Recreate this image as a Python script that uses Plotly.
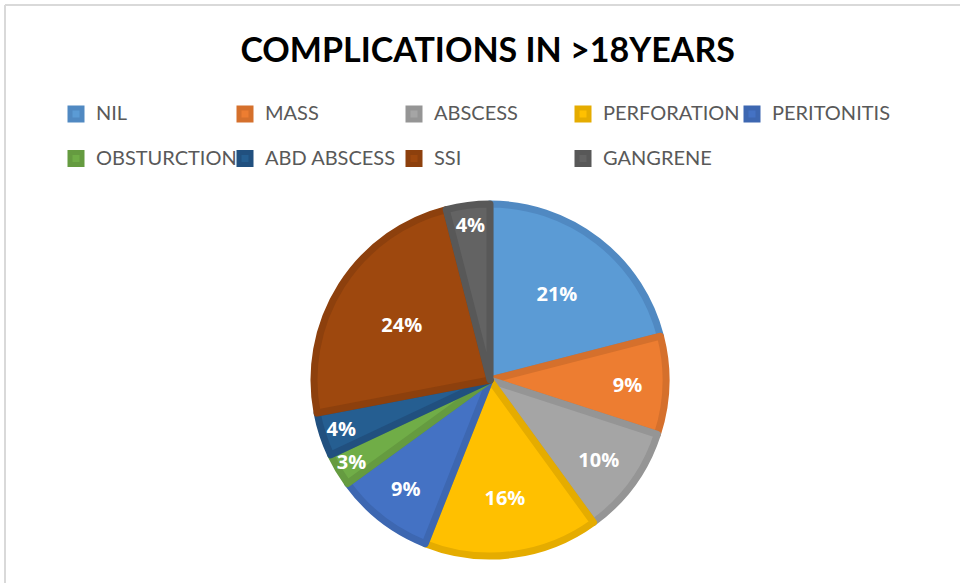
import plotly.graph_objects as go

# 各併發症占比（%）
labels = ["NIL", "MASS", "ABSCESS", "PERFORATION", "PERITONITIS",
          "OBSTURCTION", "ABD ABSCESS", "SSI", "GANGRENE"]
values = [21, 9, 10, 16, 9, 3, 4, 24, 4]

fill_colors = ["#5B9BD5", "#ED7D31", "#A5A5A5", "#FFC000", "#4472C4",
               "#70AD47", "#255E91", "#9E480E", "#636363"]
edge_colors = ["#5089C2", "#D5702C", "#959595", "#E5AC00", "#3D67B1",
               "#659B40", "#21507F", "#8D400D", "#585858"]

# 圖例每列間距拉開：標籤後面接一個空白行（行高跟著圖例字級 16 走）
legend_labels = ["<span style='font-size:20px'>" + lab + "</span><br> " for lab in labels]

fig = go.Figure()
fig.add_trace(go.Pie(
    labels=legend_labels, values=values, sort=False, direction="clockwise",
    rotation=0,
    marker=dict(colors=fill_colors, line=dict(color=edge_colors, width=7)),
    textinfo="percent", textposition="inside", insidetextorientation="horizontal",
    textfont=dict(family="Open Sans", size=20, color="white", weight="bold"),
    hoverinfo="percent",
    domain=dict(x=[(490 - 176) / 960, (490 + 176) / 960],
                y=[(583 - 556) / 583, (583 - 204) / 583]),
))

fig.update_layout(
    width=960, height=583,
    margin=dict(l=0, r=0, t=0, b=0),
    paper_bgcolor="white",
    uniformtext=dict(minsize=20, mode="show"),
    title=dict(text="<b>COMPLICATIONS IN &gt;18YEARS</b>", x=0.508, xanchor="center",
               y=1 - 50 / 583, yanchor="middle",
               font=dict(family="Lato", size=34, color="black")),
    legend=dict(orientation="h", x=56 / 960, xanchor="left", y=1 - 97 / 583,
                yanchor="top", entrywidth=124, itemwidth=30, valign="top",
                font=dict(family="Lato", size=16, color="#595959"),
                bgcolor="rgba(0,0,0,0)"),
    shapes=[
        dict(type="line", xref="paper", yref="paper", x0=5 / 960, x1=1, y0=1 - 5 / 583, y1=1 - 5 / 583,
             line=dict(color="#D9D9D9", width=2)),
        dict(type="line", xref="paper", yref="paper", x0=5 / 960, x1=5 / 960, y0=0, y1=1 - 5 / 583,
             line=dict(color="#D9D9D9", width=2)),
    ],
)

fig.write_html("out.html", config={"displayModeBar": False},
               post_script="document.body.style.margin='0';")
